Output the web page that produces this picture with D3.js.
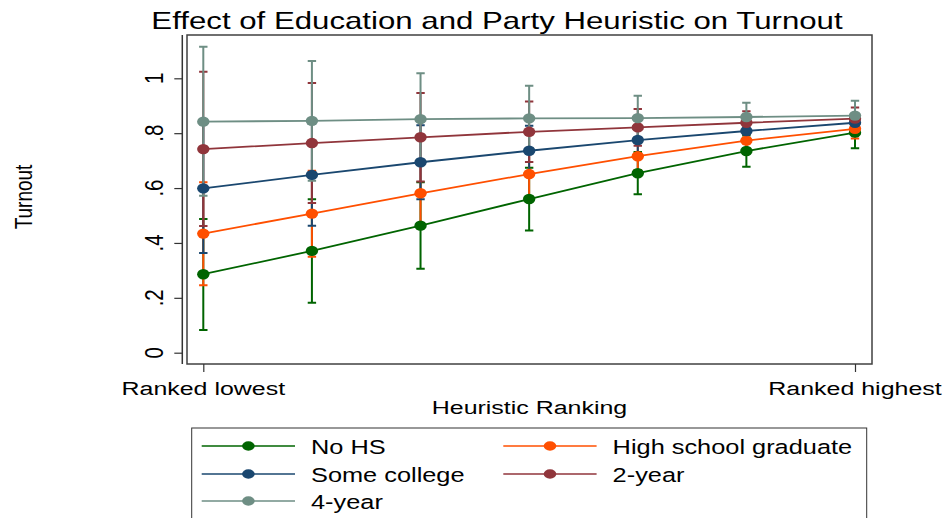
<!DOCTYPE html>
<html>
<head>
<meta charset="utf-8">
<script src="https://cdn.jsdelivr.net/npm/d3@7"></script>
<style>
  html, body { margin: 0; padding: 0; background: #fff; }
  svg { display: block; font-family: "Liberation Sans", Arial, sans-serif; }
</style>
</head>
<body>
<svg id="chart" width="949" height="518"></svg>
<script>
// Heuristic ranking positions (1 = ranked lowest, 7 = ranked highest)
const rankPositions = [1, 2, 3, 4, 5, 6, 7];
const rankTickValues = [1, 7];
const rankTickLabels = ["Ranked lowest", "Ranked highest"];
const turnoutTicks = [0, 0.2, 0.4, 0.6, 0.8, 1];
const turnoutTickLabels = ["0", ".2", ".4", ".6", ".8", "1"];

const seriesNames = ["No HS", "High school graduate", "Some college", "2-year", "4-year"];
const seriesColors = ["#006400", "#ff4f00", "#1a476f", "#90353b", "#6e8e84"];

// Predicted turnout with 95% confidence bounds, by education level
const noHS      = [0.286, 0.371, 0.463, 0.560, 0.654, 0.735, 0.802];
const noHSLo    = [0.083, 0.182, 0.306, 0.445, 0.577, 0.678, 0.745];
const noHSHi    = [0.487, 0.559, 0.621, 0.674, 0.731, 0.792, 0.859];

const hsGrad    = [0.434, 0.507, 0.581, 0.651, 0.716, 0.773, 0.816];
const hsGradLo  = [0.246, 0.350, 0.461, 0.566, 0.666, 0.743, 0.781];
const hsGradHi  = [0.621, 0.663, 0.701, 0.736, 0.766, 0.803, 0.851];

const someColl   = [0.599, 0.648, 0.694, 0.736, 0.775, 0.808, 0.838];
const someCollLo = [0.363, 0.463, 0.559, 0.645, 0.720, 0.772, 0.808];
const someCollHi = [0.835, 0.833, 0.829, 0.827, 0.830, 0.844, 0.868];

const twoYear   = [0.742, 0.764, 0.785, 0.805, 0.821, 0.838, 0.853];
const twoYearLo = [0.462, 0.546, 0.624, 0.695, 0.754, 0.796, 0.812];
const twoYearHi = [1.024, 0.983, 0.946, 0.915, 0.888, 0.880, 0.894];

const fourYear   = [0.842, 0.845, 0.851, 0.854, 0.855, 0.859, 0.864];
const fourYearLo = [0.572, 0.627, 0.684, 0.735, 0.774, 0.807, 0.810];
const fourYearHi = [1.115, 1.063, 1.018, 0.973, 0.936, 0.911, 0.918];

const estimates = [noHS, hsGrad, someColl, twoYear, fourYear];
const lowers    = [noHSLo, hsGradLo, someCollLo, twoYearLo, fourYearLo];
const uppers    = [noHSHi, hsGradHi, someCollHi, twoYearHi, fourYearHi];

const series = seriesNames.map((name, i) => ({
  name,
  color: seriesColors[i],
  points: rankPositions.map((r, j) => ({ r, est: estimates[i][j], lo: lowers[i][j], hi: uppers[i][j] }))
}));

// Layout
const SX = 1.3; // horizontal text stretch of the output
const box = { left: 187, right: 872, top: 35, bottom: 364 };
const yAxisX = 182.3;

const x = d3.scaleLinear().domain([1, 7]).range([203.3, 855]);
const y = d3.scaleLinear().domain([0, 1]).range([352.7, 78.3]);

const svg = d3.select("#chart");
svg.append("rect").attr("width", 949).attr("height", 518).attr("fill", "#fff");

function stretchedText(g, tx, ty, str, size, anchor, rotate) {
  return g.append("text")
    .attr("transform", `translate(${tx},${ty}) scale(${SX},1)` + (rotate ? ` rotate(${rotate})` : ""))
    .attr("text-anchor", anchor)
    .attr("font-size", size)
    .attr("fill", "#000")
    .text(str);
}

// Title
stretchedText(svg, 497, 29, "Effect of Education and Party Heuristic on Turnout", 24, "middle");

// Plot region frame
svg.append("rect")
  .attr("x", box.left).attr("y", box.top)
  .attr("width", box.right - box.left).attr("height", box.bottom - box.top)
  .attr("fill", "none").attr("stroke", "#404040").attr("stroke-width", 1.5);

// Y axis
const yAxis = d3.axisLeft(y)
  .tickValues(turnoutTicks)
  .tickSize(8)
  .tickFormat(() => "");
const yG = svg.append("g").attr("transform", `translate(${yAxisX},0)`).call(yAxis);
yG.select(".domain").attr("d", `M0,${box.top}V${box.bottom}`).attr("stroke", "#333").attr("stroke-width", 1.5);
yG.selectAll(".tick line").attr("stroke", "#333").attr("stroke-width", 1.2);
turnoutTicks.forEach((t, i) => {
  stretchedText(svg, 162.5, y(t), turnoutTickLabels[i], 20.5, "middle", -90);
});

// X axis
const xAxis = d3.axisBottom(x)
  .tickValues(rankTickValues)
  .tickSize(8)
  .tickFormat(() => "");
const xG = svg.append("g").attr("transform", `translate(0,${box.bottom})`).call(xAxis);
xG.select(".domain").remove();
xG.selectAll(".tick line").attr("stroke", "#333").attr("stroke-width", 1.2);
rankTickValues.forEach((v, i) => {
  stretchedText(svg, x(v), 395, rankTickLabels[i], 19.2, "middle");
});

// Axis titles
stretchedText(svg, 529.5, 414, "Heuristic Ranking", 19.2, "middle");
stretchedText(svg, 32, 197, "Turnout", 19, "middle", -90);

// Confidence intervals (drawn first, under all lines and markers)
const capHalf = 4.2;
const ciLayer = svg.append("g");
series.forEach(s => {
  const g = ciLayer.append("g").attr("stroke", s.color).attr("stroke-width", 2).attr("fill", "none");
  g.selectAll("path").data(s.points).join("path")
    .attr("d", d => `M${x(d.r)},${y(d.lo)}V${y(d.hi)}` +
      `M${x(d.r) - capHalf},${y(d.lo)}H${x(d.r) + capHalf}` +
      `M${x(d.r) - capHalf},${y(d.hi)}H${x(d.r) + capHalf}`);
});

// Connected estimates
const line = d3.line().x(d => x(d.r)).y(d => y(d.est));
series.forEach(s => {
  const g = svg.append("g");
  g.append("path").datum(s.points)
    .attr("d", line).attr("fill", "none")
    .attr("stroke", s.color).attr("stroke-width", 1.8);
  g.selectAll("ellipse").data(s.points).join("ellipse")
    .attr("cx", d => x(d.r)).attr("cy", d => y(d.est))
    .attr("rx", 6.2).attr("ry", 5.2)
    .attr("fill", s.color);
});

// Legend
const legend = svg.append("g");
legend.append("rect")
  .attr("x", 191.7).attr("y", 428).attr("width", 675).attr("height", 120)
  .attr("fill", "#fff").attr("stroke", "#333").attr("stroke-width", 1);
const legendCols = [201.7, 503.3];
const legendRows = [446, 474, 501];
series.forEach((s, i) => {
  const cx = legendCols[i % 2];
  const cy = legendRows[Math.floor(i / 2)];
  legend.append("line")
    .attr("x1", cx).attr("x2", cx + 93.3).attr("y1", cy).attr("y2", cy)
    .attr("stroke", s.color).attr("stroke-width", 1.7);
  legend.append("ellipse")
    .attr("cx", cx + 46.7).attr("cy", cy).attr("rx", 6.3).attr("ry", 4.7)
    .attr("fill", s.color);
  stretchedText(legend, cx + 109.3, cy + 8, s.name, 19.5, "start");
});
</script>
</body>
</html>
